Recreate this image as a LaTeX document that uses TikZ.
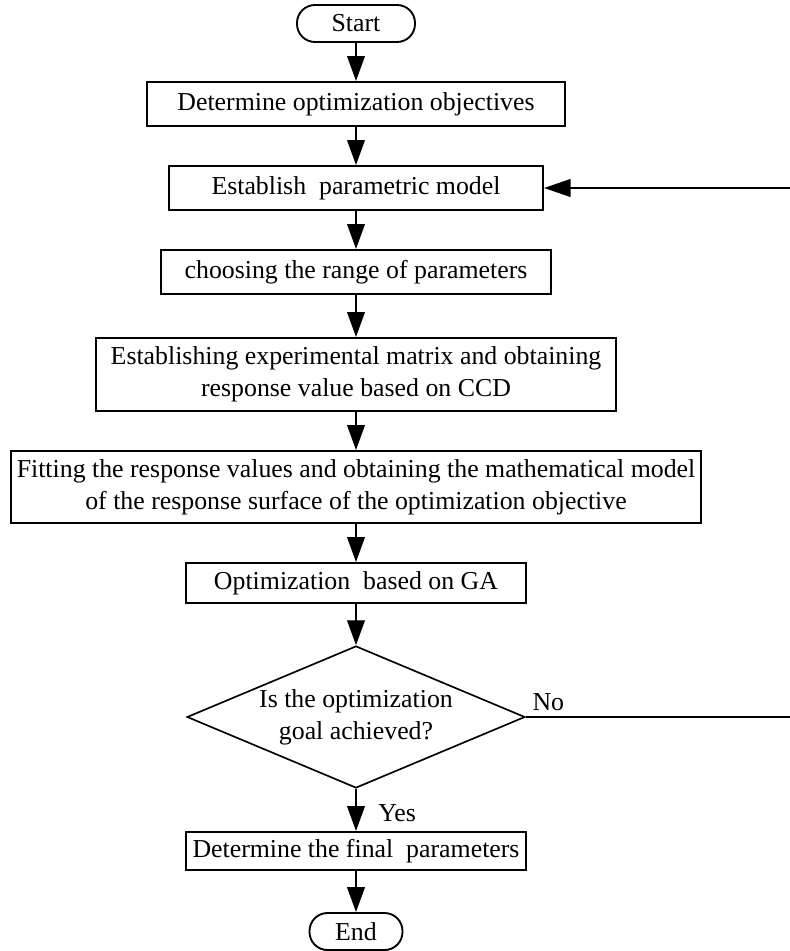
\documentclass[tikz,border=0pt]{standalone}
\usepackage{fontspec}
\setmainfont{Liberation Serif}
\usepackage{tikz}
\usetikzlibrary{shapes,arrows,arrows.meta,positioning}

\newlength{\pxl}
\setlength{\pxl}{0.01687cm}

\begin{document}
\begin{tikzpicture}[x=\pxl, y=-\pxl]
			\tikzstyle{Txt}		= [font=\fontsize{12.4}{15.4}\selectfont]
			\tikzstyle{Terminal}	= [Txt, rectangle, draw, line width=0.9pt, rounded corners=18\pxl, inner sep=0pt, minimum height=37\pxl]
			\tikzstyle{Process}	= [Txt, rectangle, draw, line width=1pt, inner sep=0pt, align=center]
			\tikzstyle{Decision}	= [Txt, diamond, draw, line width=0.8pt, aspect=2.38, inner sep=0pt, align=center, minimum width=338\pxl, minimum height=142\pxl]
			\tikzstyle{Flow}		= [-{Triangle[length=0.42cm, width=0.30cm]}, line width=0.6pt]
			\tikzstyle{Loop}		= [-{Triangle[length=0.45cm, width=0.30cm]}, line width=1pt]
			
			\useasboundingbox (0, 0) rectangle (790, 951);
			
			\node (start) at (356, 23.5) [Terminal, minimum width=118\pxl] {Start};
			\node (det) at (356, 104) [Process, minimum width=418\pxl, minimum height=44\pxl] {Determine optimization objectives};
			\node (est) at (356, 188) [Process, minimum width=374\pxl, minimum height=44\pxl] {Establish\ \ parametric model};
			\node (rng) at (356, 272) [Process, minimum width=390\pxl, minimum height=44\pxl] {choosing the range of parameters};
			\node (ccd) at (356, 374.5) [Process, minimum width=520\pxl, minimum height=73\pxl] {Establishing experimental matrix and obtaining\\ response value based on CCD};
			\node (fit) at (356, 487) [Process, minimum width=690\pxl, minimum height=72\pxl] {Fitting the response values and obtaining the mathematical model\\ of the response surface of the optimization objective};
			\node (ga) at (356, 583) [Process, minimum width=340\pxl, minimum height=40\pxl] {Optimization\ \ based on GA};
			\node (goal) at (356, 717) [Decision] {Is the optimization\\ goal achieved?};
			\node (fin) at (356, 851) [Process, minimum width=340\pxl, minimum height=38\pxl] {Determine the final\ \ parameters};
			\node (end) at (356, 931.5) [Terminal, minimum width=93\pxl] {End};
			
			\node (no) at (goal.east) [Txt, anchor=south west, inner sep=3pt] {No};
			\node (yes) at (378, 813) [Txt, anchor=west, inner sep=0pt] {Yes};
			\coordinate (loop) at (796, 0);
			
			\draw [Flow] (start) to (det);
			\draw [Flow] (det) to (est);
			\draw [Flow] (est) to (rng);
			\draw [Flow] (rng) to (ccd);
			\draw [Flow] (ccd) to (fit);
			\draw [Flow] (fit) to (ga);
			\draw [Flow] (ga) to (goal);
			\draw [Flow] (goal) to (fin);
			\draw [Flow] (fin) to (end);
			
			\draw [Loop] (goal.east) -- (goal.east -| loop) |- (est.east);
\end{tikzpicture}
\end{document}
